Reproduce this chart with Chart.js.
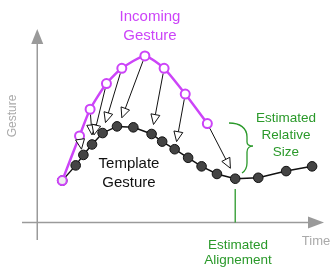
<!DOCTYPE html>
<html>
<head>
<meta charset="utf-8">
<script src="https://cdn.jsdelivr.net/npm/chart.js@4"></script>
<style>
  html, body { margin: 0; padding: 0; background: #fff; }
  #wrap { width: 333px; height: 268px; }
</style>
</head>
<body>
<div id="wrap"><canvas id="chart" width="333" height="268"></canvas></div>
<script>
// ---------------- DATA ----------------
// x = time, y = gesture value (origin where the two axes cross)
const incomingX = [26, 44, 55, 72, 88, 112, 132, 154, 177];
const incomingY = [44, 91, 119, 146, 162, 175, 162, 135, 104];

const templateX = [26, 40, 48, 57, 68, 83, 100, 119, 130, 143, 157, 171, 187, 206, 230, 259, 286];
const templateY = [44, 60, 71, 82, 94, 101, 100, 93, 85, 77, 68, 59, 51, 46, 47, 54, 59];

// matching arrows: from an incoming point to a spot on the template
const arrowFrom = [1, 2, 3, 4, 5, 6, 7, 8];
const arrowToX = [46, 57, 59, 71, 88, 121, 145, 201];
const arrowToY = [77, 92, 92, 105, 110, 103, 85, 57];

const alignX = 206;

// ---------------- COLOURS ----------------
const MAGENTA = "#cc44f8";
const GREEN = "#2a992a";
const AXIS = "#9a9a9a";

const pts = (xs, ys) => xs.map((x, i) => ({ x: x, y: ys[i] }));

// ---------------- OVERLAY PLUGIN ----------------
const overlay = {
    id: "overlay",
    beforeDatasetsDraw(chart) {
        const ctx = chart.ctx;
        const xs = chart.scales.x, ys = chart.scales.y;
        const x0 = xs.getPixelForValue(0), y0 = ys.getPixelForValue(0);
        ctx.save();
        ctx.strokeStyle = AXIS;
        ctx.fillStyle = AXIS;
        ctx.lineWidth = 1.5;
        // y axis
        ctx.beginPath();
        ctx.moveTo(x0, 240);
        ctx.lineTo(x0, 42);
        ctx.stroke();
        ctx.beginPath();
        ctx.moveTo(x0, 29);
        ctx.lineTo(x0 - 6, 44);
        ctx.lineTo(x0 + 6, 44);
        ctx.closePath();
        ctx.fill();
        // x axis
        ctx.beginPath();
        ctx.moveTo(22, y0);
        ctx.lineTo(310, y0);
        ctx.stroke();
        ctx.beginPath();
        ctx.moveTo(324, y0);
        ctx.lineTo(308, y0 - 6);
        ctx.lineTo(308, y0 + 6);
        ctx.closePath();
        ctx.fill();

        // alignment marker
        const ax = xs.getPixelForValue(alignX);
        ctx.strokeStyle = GREEN;
        ctx.lineWidth = 1.3;
        ctx.beginPath();
        ctx.moveTo(ax, 189);
        ctx.lineTo(ax, y0);
        ctx.stroke();

        // brace
        ctx.beginPath();
        ctx.moveTo(229, 123);
        ctx.bezierCurveTo(240, 123, 247, 128, 247, 137);
        ctx.lineTo(247, 142);
        ctx.bezierCurveTo(247, 145, 250, 146, 253, 146);
        ctx.bezierCurveTo(250, 146, 247, 148, 247, 152);
        ctx.lineTo(247, 163);
        ctx.bezierCurveTo(247, 168, 245, 171, 242, 173);
        ctx.stroke();
        ctx.restore();
    },
    afterDatasetsDraw(chart) {
        const ctx = chart.ctx;
        const xs = chart.scales.x, ys = chart.scales.y;
        ctx.save();
        ctx.strokeStyle = "#111";
        ctx.lineWidth = 1;
        arrowFrom.forEach((idx, i) => {
            const sx = xs.getPixelForValue(incomingX[idx]);
            const sy = ys.getPixelForValue(incomingY[idx]);
            const ex = xs.getPixelForValue(arrowToX[i]);
            const ey = ys.getPixelForValue(arrowToY[i]);
            const ang = Math.atan2(ey - sy, ex - sx);
            const c = Math.cos(ang), s = Math.sin(ang);
            const bx = sx + c * 5.5, by = sy + s * 5.5;
            const hx = ex - c * 10, hy = ey - s * 10;
            ctx.beginPath();
            ctx.moveTo(bx, by);
            ctx.lineTo(hx, hy);
            ctx.stroke();
            ctx.beginPath();
            ctx.moveTo(ex, ey);
            ctx.lineTo(hx - s * 4.5, hy + c * 4.5);
            ctx.lineTo(hx + s * 4.5, hy - c * 4.5);
            ctx.closePath();
            ctx.fillStyle = "#fff";
            ctx.fill();
            ctx.stroke();
        });

        ctx.textAlign = "center";
        ctx.textBaseline = "middle";
        ctx.font = "15px 'Liberation Sans', Arial, sans-serif";
        ctx.fillStyle = MAGENTA;
        ctx.fillText("Incoming", 150, 17);
        ctx.fillText("Gesture", 150, 36);
        ctx.fillStyle = "#111";
        ctx.fillText("Template", 129, 164);
        ctx.fillText("Gesture", 129, 183);

        ctx.font = "13.5px 'Liberation Sans', Arial, sans-serif";
        ctx.fillStyle = GREEN;
        ctx.fillText("Estimated", 286, 118);
        ctx.fillText("Relative", 286, 135);
        ctx.fillText("Size", 286, 152);
        ctx.fillText("Estimated", 238, 245);
        ctx.fillText("Alignement", 238, 260);

        ctx.font = "13px 'Liberation Sans', Arial, sans-serif";
        ctx.fillStyle = "#aaa";
        ctx.fillText("Time", 316, 241);
        ctx.translate(13, 116);
        ctx.rotate(-Math.PI / 2);
        ctx.font = "12px 'Liberation Sans', Arial, sans-serif";
        ctx.fillText("Gesture", 0, 0);
        ctx.restore();
    }
};

// ---------------- CHART ----------------
new Chart(document.getElementById("chart"), {
    type: "line",
    data: {
        datasets: [{
            label: "Incoming Gesture",
            data: pts(incomingX, incomingY),
            borderColor: MAGENTA,
            borderWidth: 2.5,
            pointRadius: 4.5,
            pointBorderWidth: 2,
            pointBorderColor: MAGENTA,
            pointBackgroundColor: incomingX.map((v, i) => i === 0 ? "#eeeeee" : "#ffffff"),
            tension: 0.2
        }, {
            label: "Template Gesture",
            data: pts(templateX, templateY),
            borderColor: "#111",
            borderWidth: 1.5,
            pointRadius: 4.8,
            pointBorderWidth: 1,
            pointBorderColor: "#111",
            pointBackgroundColor: "#444",
            tension: 0
        }]
    },
    options: {
        responsive: false,
        animation: false,
        devicePixelRatio: 1,
        layout: { padding: 0 },
        plugins: { legend: { display: false }, tooltip: { enabled: false } },
        scales: {
            x: { type: "linear", min: -32, max: 301, display: false },
            y: { type: "linear", min: -41, max: 227, display: false }
        }
    },
    plugins: [overlay]
});
</script>
</body>
</html>
